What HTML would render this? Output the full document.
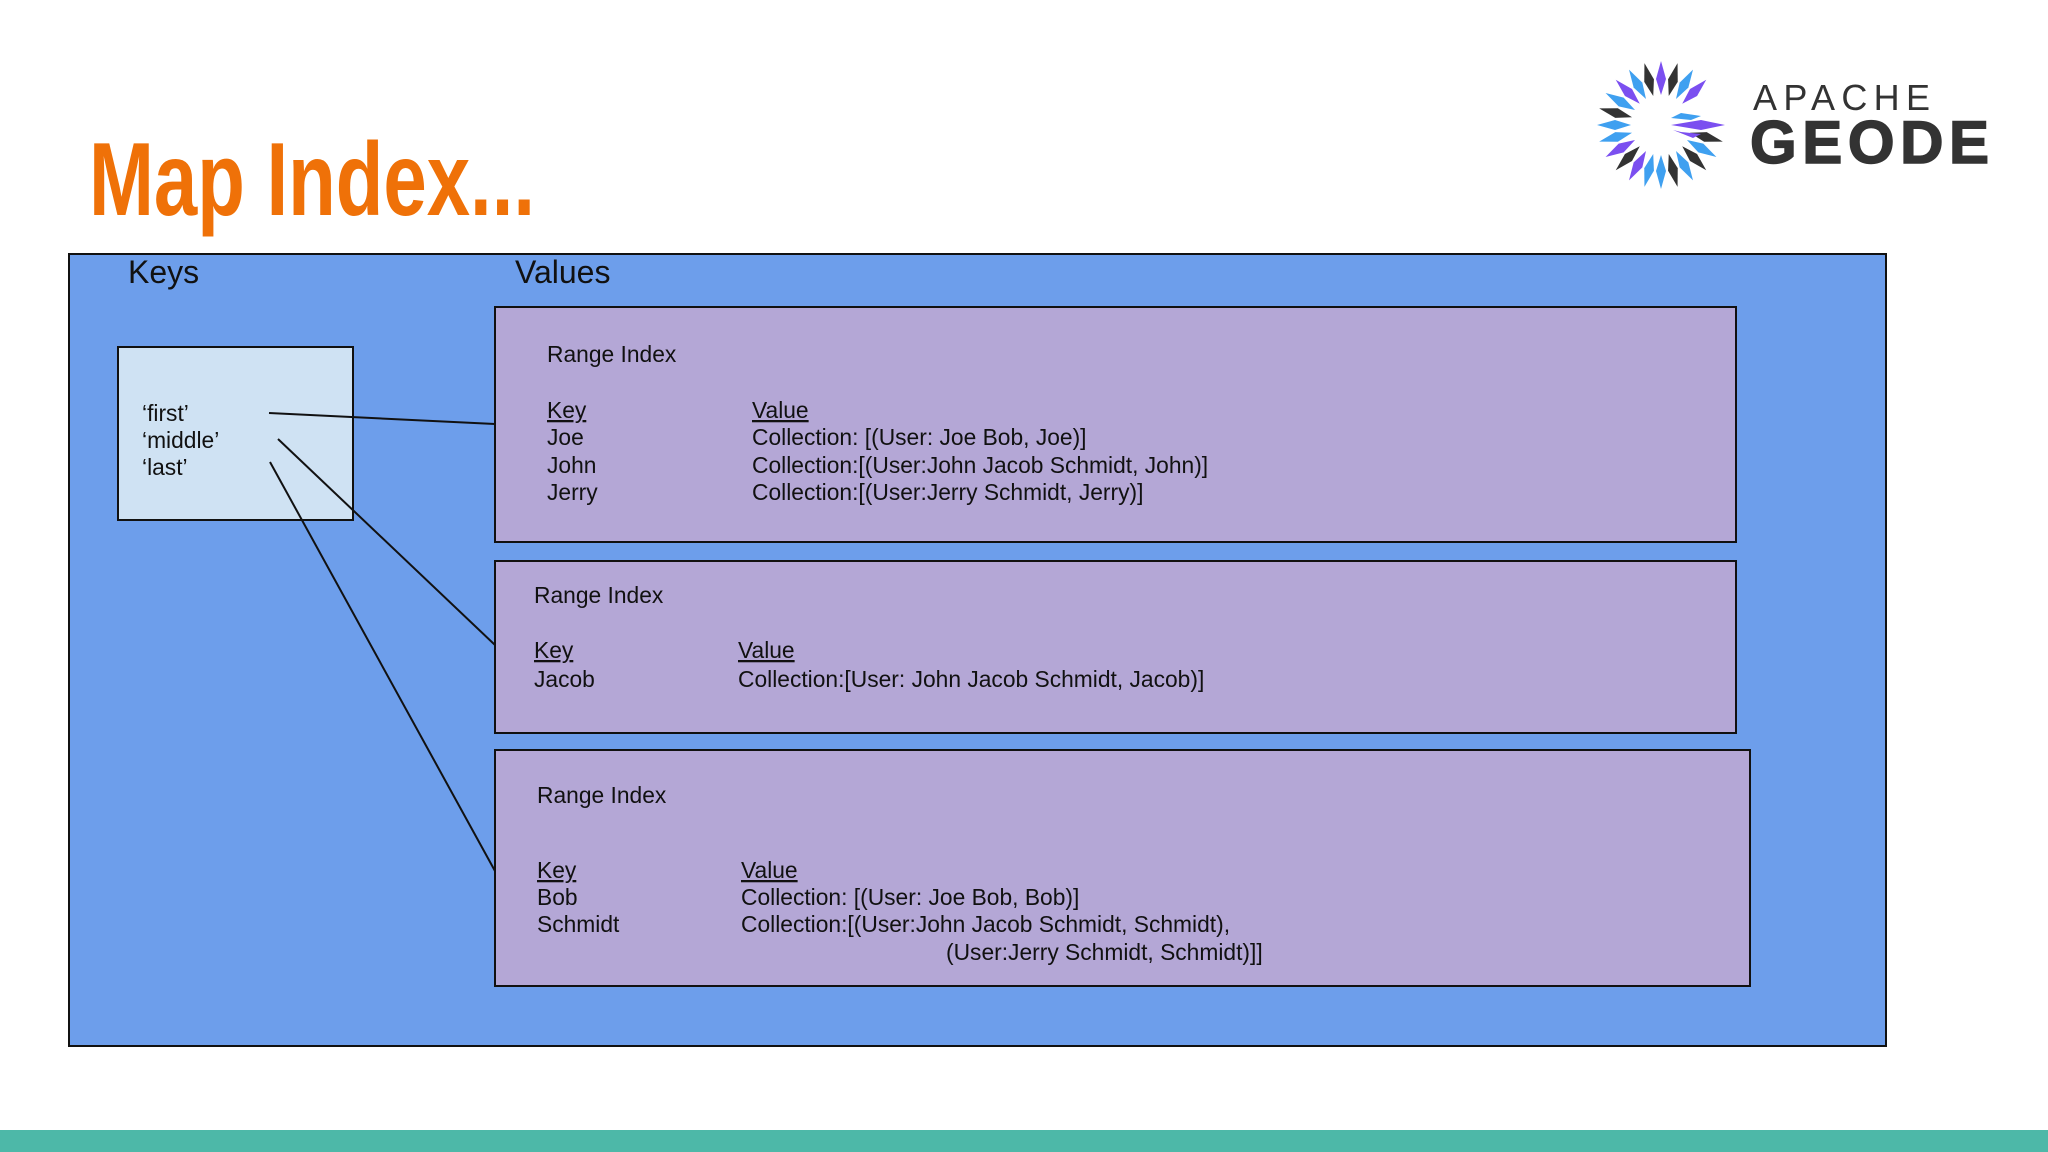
<!DOCTYPE html>
<html><head><meta charset="utf-8"><style>
html,body{margin:0;padding:0;background:#fff}
svg{display:block}
text{font-family:"Liberation Sans",Arial,sans-serif;fill:#111}
.b{font-size:22.8px}
.u{text-decoration:underline}
</style></head><body>
<svg width="2048" height="1152" viewBox="0 0 2048 1152" xmlns="http://www.w3.org/2000/svg">
<rect width="2048" height="1152" fill="#fff"/>
<text x="89" y="215" style="font-family:'Liberation Sans Narrow','Liberation Sans',sans-serif;font-weight:bold;font-size:104px;fill:#ef7108" textLength="446" lengthAdjust="spacingAndGlyphs">Map Index...</text>

<g transform="translate(1661,125)">
<path d="M0,-64 L-5,-46 L0,-30 L5,-46Z" fill="#7b4ff0"/>
<path d="M0,-64 L-5,-46 L0,-30 L5,-46Z" fill="#333" transform="rotate(15)"/>
<path d="M0,-64 L-5,-46 L0,-30 L5,-46Z" fill="#3fa0f0" transform="rotate(30)"/>
<path d="M0,-64 L-5,-46 L0,-30 L5,-46Z" fill="#7b4ff0" transform="rotate(45)"/>
<path d="M0,-64 L-5,-46 L0,-30 L5,-46Z" fill="#333" transform="rotate(-15)"/>
<path d="M0,-64 L-5,-46 L0,-30 L5,-46Z" fill="#3fa0f0" transform="rotate(-30)"/>
<path d="M0,-64 L-5,-46 L0,-30 L5,-46Z" fill="#7b4ff0" transform="rotate(-45)"/>
<path d="M0,-64 L-5,-46 L0,-30 L5,-46Z" fill="#3fa0f0" transform="rotate(-60)"/>
<path d="M0,-64 L-5,-46 L0,-30 L5,-46Z" fill="#333" transform="rotate(-75)"/>
<path d="M0,-64 L-5,-46 L0,-30 L5,-46Z" fill="#3fa0f0" transform="rotate(-90)"/>
<path d="M0,-64 L-5,-46 L0,-30 L5,-46Z" fill="#3fa0f0" transform="rotate(-105)"/>
<path d="M0,-64 L-5,-46 L0,-30 L5,-46Z" fill="#7b4ff0" transform="rotate(-120)"/>
<path d="M0,-64 L-5,-46 L0,-30 L5,-46Z" fill="#333" transform="rotate(-135)"/>
<path d="M0,-64 L-5,-46 L0,-30 L5,-46Z" fill="#7b4ff0" transform="rotate(-150)"/>
<path d="M0,-64 L-5,-46 L0,-30 L5,-46Z" fill="#3fa0f0" transform="rotate(-165)"/>
<path d="M0,-64 L-5,-46 L0,-30 L5,-46Z" fill="#3fa0f0" transform="rotate(180)"/>
<path d="M0,-64 L-5,-46 L0,-30 L5,-46Z" fill="#333" transform="rotate(165)"/>
<path d="M0,-64 L-5,-46 L0,-30 L5,-46Z" fill="#3fa0f0" transform="rotate(150)"/>
<path d="M0,-64 L-5,-46 L0,-30 L5,-46Z" fill="#333" transform="rotate(135)"/>
<path d="M0,-64 L-5,-46 L0,-30 L5,-46Z" fill="#3fa0f0" transform="rotate(120)"/>
<path d="M0,-64 L-5,-46 L0,-30 L5,-46Z" fill="#333" transform="rotate(105)"/>
<path d="M64,0 L40,-5 L10,0 L40,5Z" fill="#7b4ff0"/>
<path d="M40,-9 L20,-12 L10,-7 L30,-5Z" fill="#3fa0f0"/>
<path d="M40,9 L20,7 L12,5 L32,13Z" fill="#7b4ff0"/>
</g>
<text x="1753" y="110" style="font-size:36px;fill:#333;letter-spacing:3px" textLength="180">APACHE</text>
<text x="1750" y="163" style="font-size:60px;font-weight:bold;fill:#333;letter-spacing:3px;stroke:#333;stroke-width:1.5" textLength="242">GEODE</text>

<rect x="69" y="254" width="1817" height="792" fill="#6d9eeb" stroke="#111" stroke-width="2"/>
<text x="128" y="283" style="font-size:32px">Keys</text>
<text x="515" y="283" style="font-size:32px">Values</text>

<rect x="118" y="347" width="235" height="173" fill="#cfe2f3" stroke="#111" stroke-width="2"/>
<text class="b" x="142" y="421">‘first’</text>
<text class="b" x="142" y="448">‘middle’</text>
<text class="b" x="142" y="475">‘last’</text>

<rect x="495" y="307" width="1241" height="235" fill="#b4a7d6" stroke="#111" stroke-width="2"/>
<text class="b" x="547" y="362">Range Index</text>
<text class="b u" x="547" y="418">Key</text>
<text class="b u" x="752" y="418">Value</text>
<text class="b" x="547" y="445">Joe</text>
<text class="b" x="752" y="445">Collection: [(User: Joe Bob, Joe)]</text>
<text class="b" x="547" y="473">John</text>
<text class="b" x="752" y="473">Collection:[(User:John Jacob Schmidt, John)]</text>
<text class="b" x="547" y="500">Jerry</text>
<text class="b" x="752" y="500">Collection:[(User:Jerry Schmidt, Jerry)]</text>

<rect x="495" y="561" width="1241" height="172" fill="#b4a7d6" stroke="#111" stroke-width="2"/>
<text class="b" x="534" y="603">Range Index</text>
<text class="b u" x="534" y="658">Key</text>
<text class="b u" x="738" y="658">Value</text>
<text class="b" x="534" y="687">Jacob</text>
<text class="b" x="738" y="687">Collection:[User: John Jacob Schmidt, Jacob)]</text>

<rect x="495" y="750" width="1255" height="236" fill="#b4a7d6" stroke="#111" stroke-width="2"/>
<text class="b" x="537" y="803">Range Index</text>
<text class="b u" x="537" y="878">Key</text>
<text class="b u" x="741" y="878">Value</text>
<text class="b" x="537" y="905">Bob</text>
<text class="b" x="741" y="905">Collection: [(User: Joe Bob, Bob)]</text>
<text class="b" x="537" y="932">Schmidt</text>
<text class="b" x="741" y="932">Collection:[(User:John Jacob Schmidt, Schmidt),</text>
<text class="b" x="946" y="960">(User:Jerry Schmidt, Schmidt)]]</text>

<g stroke="#111" stroke-width="2">
<line x1="269" y1="413" x2="495" y2="424"/>
<line x1="278" y1="439" x2="495" y2="645"/>
<line x1="270" y1="462" x2="495" y2="871"/>
</g>

<rect x="0" y="1130" width="2048" height="22" fill="#4db8a8"/>
</svg>
</body></html>
